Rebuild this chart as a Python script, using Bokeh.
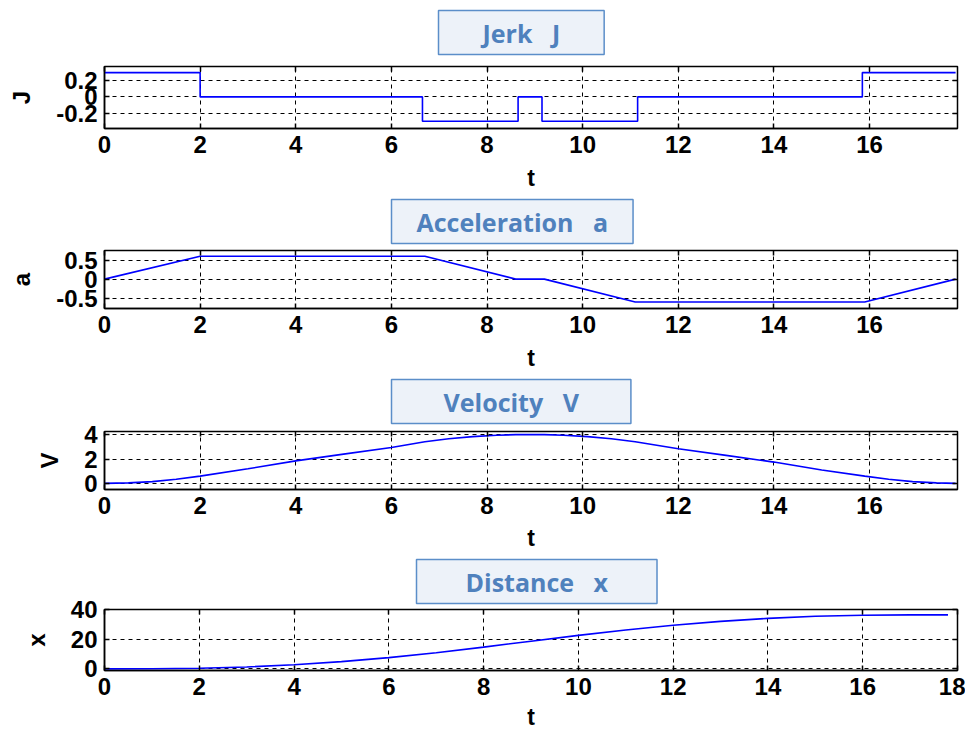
from bokeh.plotting import figure
from bokeh.models import FixedTicker, LinearAxis, Range1d, Title
from bokeh.layouts import column
from bokeh.embed import file_html
from bokeh.resources import INLINE

# ---------------- data ----------------
t_jerk = [0, 2.0, 6.65, 8.65, 9.15, 11.15, 15.85, 17.8]
jerk = [0.3, 0.0, -0.3, 0.0, -0.3, 0.0, 0.3, 0.3]

t_acc = [0, 2.0, 6.7, 8.6, 9.2, 11.1, 15.9, 17.8]
acc = [0.0, 0.6, 0.6, 0.0, 0.0, -0.6, -0.6, 0.0]

t_vel = [0, 0.5, 1, 1.5, 2, 3, 4, 5, 6, 6.7, 7.2, 7.7, 8.2, 8.6, 9.2, 9.6,
         10.1, 10.6, 11.1, 12, 13, 14, 15, 15.9, 16.4, 16.9, 17.4, 17.8]
vel = [0, 0.04, 0.15, 0.34, 0.6, 1.2, 1.85, 2.4, 2.95, 3.42, 3.66, 3.84, 3.95, 4.0, 4.0, 3.95,
       3.84, 3.66, 3.42, 2.85, 2.3, 1.75, 1.1, 0.6, 0.34, 0.15, 0.04, 0.0]

t_dist = [0, 1, 2, 3, 4, 5, 6, 7, 8, 9, 10, 11, 12, 13, 14, 15, 16, 17, 17.8]
dist = [0, 0.05, 0.4, 1.3, 2.8, 4.9, 7.6, 10.9, 14.7, 18.7, 22.6, 26.3, 29.5, 32.1,
        34.1, 35.5, 36.2, 36.5, 36.5]

x_ticks_a = [0, 2, 4, 6, 8, 10, 12, 14, 16]
x_ticks_b = [0, 2, 4, 6, 8, 10, 12, 14, 16, 18]
x_labels_a = ["0", "2", "4", "6", "8", "10", "12", "14", "16"]
x_labels_b = ["0", "2", "4", "6", "8", "10", "12", "14", "16", "18"]

y_ticks_j = [-0.2, 0, 0.2]
y_labels_j = ["-0.2", "0", "0.2"]
y_ticks_a = [-0.5, 0, 0.5]
y_labels_a = ["-0.5", "0", "0.5"]
y_ticks_v = [0, 2, 4]
y_labels_v = ["0", "2", "4"]
y_ticks_x = [0, 20, 40]
y_labels_x = ["0", "20", "40"]

titles = ["Jerk\u00a0\u00a0\u00a0J", "Acceleration\u00a0\u00a0\u00a0a",
          "Velocity\u00a0\u00a0\u00a0V", "Distance\u00a0\u00a0\u00a0x"]
ylabels = ["J", "a", "V", "x"]

# ---------------- layout geometry (page pixels) ----------------
FL, FR = 104, 957
FIG_W = 965
panels = [
    dict(fig=(0, 197), frame=(66, 128), yr=(-0.39, 0.375), xr=(0, 17.84), gap=12, tstand=9),
    dict(fig=(197, 377), frame=(248, 308), yr=(-0.77, 0.75), xr=(0, 17.84), gap=7, tstand=9),
    dict(fig=(377, 557), frame=(429, 489), yr=(-0.5, 4.26), xr=(0, 17.84), gap=8, tstand=8),
    dict(fig=(557, 736), frame=(608, 670), yr=(-1.1, 40.1), xr=(0, 18), gap=6, tstand=6),
]
title_boxes = [  # box left (page px), left/right padding
    dict(left=438, pad=(44, 44)),
    dict(left=391, pad=(25, 25)),
    dict(left=391, pad=(52, 52)),
    dict(left=416, pad=(49, 49)),
]
series = [
    (t_jerk, jerk, "step", x_ticks_a, x_labels_a, y_ticks_j, y_labels_j),
    (t_acc, acc, "line", x_ticks_a, x_labels_a, y_ticks_a, y_labels_a),
    (t_vel, vel, "line", x_ticks_a, x_labels_a, y_ticks_v, y_labels_v),
    (t_dist, dist, "line", x_ticks_b, x_labels_b, y_ticks_x, y_labels_x),
]

TICK_FONT = "Liberation Sans"
TITLE_FONT = "Open Sans"
TITLE_COLOR = "#4f81bd"


def make_title(k):
    tb = title_boxes[k]
    padl, padr = tb["pad"]
    return Title(text=titles[k], align="left", offset=tb["left"] - FL,
                 vertical_align="bottom", standoff=0,
                 text_font=TITLE_FONT, text_font_style="bold", text_font_size="25px",
                 text_color=TITLE_COLOR,
                 background_fill_color="#edf2f9", border_line_color="#5b8ec9",
                 border_line_width=1.5,
                 padding=dict(left=padl, right=padr, top=5, bottom=5))


def make_panel(i):
    g = panels[i]
    xs, ys, kind, xt, xl, yt, yl = series[i]
    f_top, f_bot = g["fig"]
    fr_top, fr_bot = g["frame"]
    x0, x1 = g["xr"]
    y0, y1 = g["yr"]

    p = figure(width=FIG_W, height=f_bot - f_top, output_backend="svg",
               toolbar_location=None, title=None,
               x_range=Range1d(x0, x1), y_range=Range1d(y0, y1),
               min_border_left=FL, min_border_right=FIG_W - FR,
               min_border_top=fr_top - f_top, min_border_bottom=f_bot - fr_bot)
    p.background_fill_color = "white"
    p.border_fill_color = "white"
    p.outline_line_color = "black"
    p.outline_line_width = 1.5

    for ax, ticks, labels in ((p.xaxis[0], xt, xl), (p.yaxis[0], yt, yl)):
        ax.ticker = FixedTicker(ticks=ticks)
        ax.major_label_overrides = {t: s for t, s in zip(ticks, labels)}
        ax.major_tick_in = 5
        ax.major_tick_out = 0
        ax.minor_tick_line_color = None
        ax.major_tick_line_color = "black"
        ax.major_tick_line_width = 1.5
        ax.axis_line_color = "black"
        ax.axis_line_width = 1.5
        ax.major_label_text_font = TICK_FONT
        ax.major_label_text_font_style = "bold"
        ax.major_label_text_color = "black"
        ax.axis_label_text_font = TICK_FONT
        ax.axis_label_text_font_style = "bold"
        ax.axis_label_text_color = "black"
    p.xaxis[0].axis_label = "t"
    p.xaxis[0].major_label_text_font_size = "24px"
    p.xaxis[0].axis_label_text_font_size = "23px"
    p.xaxis[0].major_label_standoff = 7
    p.xaxis[0].axis_label_standoff = g["tstand"]
    p.yaxis[0].axis_label = ylabels[i]
    p.yaxis[0].major_label_text_font_size = "24px"
    p.yaxis[0].axis_label_text_font_size = "24px"
    p.yaxis[0].major_label_standoff = 7
    p.yaxis[0].axis_label_standoff = 18

    # mirrored inward tick marks on top and right (no labels)
    for loc, ticks in (("above", xt), ("right", yt)):
        m = LinearAxis(ticker=FixedTicker(ticks=ticks), major_tick_in=5, major_tick_out=0,
                       minor_tick_line_color=None, axis_line_color=None,
                       major_tick_line_color="black", major_tick_line_width=1.5,
                       major_label_overrides={t: "" for t in ticks},
                       major_label_text_color=None, major_label_standoff=0)
        p.add_layout(m, loc)
    # invisible spacer between the frame and the boxed title
    spacer = LinearAxis(ticker=FixedTicker(ticks=xt), major_tick_in=0, major_tick_out=g["gap"],
                        minor_tick_line_color=None, axis_line_color=None,
                        major_tick_line_color=None,
                        major_label_overrides={t: "" for t in xt},
                        major_label_text_color=None, major_label_standoff=0)
    p.add_layout(spacer, "above")
    p.add_layout(make_title(i), "above")

    for grid in (p.xgrid[0], p.ygrid[0]):
        grid.grid_line_color = "black"
        grid.grid_line_dash = "4 4"
        grid.grid_line_width = 1
        grid.grid_line_alpha = 1.0

    if kind == "step":
        p.step(xs, ys, mode="after", line_color="#0000ff", line_width=1.6)
    else:
        p.line(xs, ys, line_color="#0000ff", line_width=1.6)
    return p


figs = [make_panel(i) for i in range(4)]
layout = column(*figs, spacing=0)

open("out.html", "w").write(file_html(layout, INLINE))
